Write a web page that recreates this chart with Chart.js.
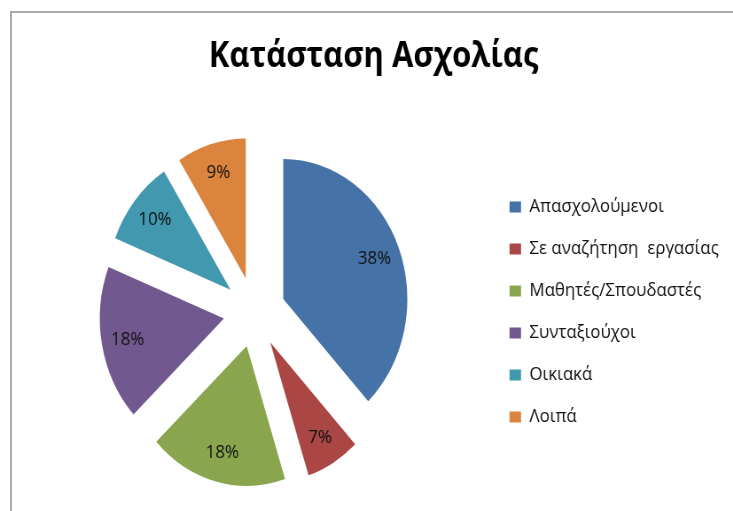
<!DOCTYPE html>
<html>
<head>
<meta charset="utf-8">
<script src="https://cdn.jsdelivr.net/npm/chart.js@4.4.1/dist/chart.umd.min.js"></script>
<style>
  html, body { margin: 0; padding: 0; background: #fff; overflow: hidden; }
  .frame {
    position: absolute; left: 10px; top: 11px;
    width: 760px; height: 540px;
    border: 2px solid #aaaaaa;
  }
  /* the original picture is squeezed sideways, so the chart is drawn wider and squeezed back */
  .wrap {
    position: absolute; left: 0; top: 0;
    width: 827px; height: 511px;
    transform: scaleX(0.8864); transform-origin: 0 0;
  }
</style>
</head>
<body>
<div class="frame"></div>
<div class="wrap"><canvas id="pie"></canvas></div>
<script>
// data
const categories = ['Απασχολούμενοι', 'Σε αναζήτηση  εργασίας', 'Μαθητές/Σπουδαστές', 'Συνταξιούχοι', 'Οικιακά', 'Λοιπά'];
const shares = [38, 7, 18, 18, 10, 9];
const sliceColors = ['#4572A7', '#AA4643', '#89A54E', '#71588F', '#4198AF', '#DB843D'];
const chartTitle = 'Κατάσταση Ασχολίας';

const FONT = 'Open Sans';
const legendSize = 19;
const legendPad = 23;
const boxW = 13;
const explode = 35; // how far each slice is pulled out

// work out the paddings so the pie and legend sit where they do in the picture
const W = 827;
const m = document.createElement('canvas').getContext('2d');
m.font = legendSize + 'px "' + FONT + '"';
const longest = Math.max(...categories.map(c => m.measureText(c).width));
const padL = legendPad - 0.8;
const legendLeft = 574 - padL;
const padR = W - legendLeft - (legendPad + boxW + legendSize / 2 + longest + 10);

// pulls every slice outwards along its middle angle
const explodePlugin = {
  id: 'explode',
  afterDatasetUpdate(chart, args) {
    args.meta.data.forEach(arc => {
      const mid = (arc.startAngle + arc.endAngle) / 2;
      arc.x += Math.cos(mid) * explode;
      arc.y += Math.sin(mid) * explode;
    });
  }
};

// percentage labels inside the slices
const pctLabels = {
  id: 'pctLabels',
  afterDatasetsDraw(chart) {
    const ctx = chart.ctx;
    const meta = chart.getDatasetMeta(0);
    const total = shares.reduce((a, b) => a + b, 0);
    ctx.save();
    ctx.font = '19px "' + FONT + '"';
    ctx.fillStyle = '#111';
    ctx.textAlign = 'center';
    ctx.textBaseline = 'middle';
    meta.data.forEach((arc, i) => {
      const mid = (arc.startAngle + arc.endAngle) / 2;
      const r = arc.outerRadius * 0.79;
      const pct = Math.round(shares[i] / total * 100) + '%';
      ctx.fillText(pct, arc.x + Math.cos(mid) * r, arc.y + Math.sin(mid) * r);
    });
    ctx.restore();
  }
};

new Chart(document.getElementById('pie'), {
  type: 'pie',
  data: {
    labels: categories,
    datasets: [{
      data: shares,
      backgroundColor: sliceColors,
      borderWidth: 0
    }]
  },
  options: {
    responsive: true,
    maintainAspectRatio: false,
    animation: false,
    radius: 140,
    layout: { padding: { left: padL, right: padR, top: 0, bottom: 0 } },
    plugins: {
      title: {
        display: true,
        text: chartTitle,
        color: '#000',
        font: { family: FONT, size: 35, weight: 'bold', lineHeight: 1.2 },
        padding: { top: 36, bottom: 35 }
      },
      legend: {
        position: 'right',
        fullSize: false,
        labels: {
          color: '#111',
          font: { family: FONT, size: legendSize },
          boxWidth: boxW,
          boxHeight: 11,
          padding: legendPad
        }
      },
      tooltip: { enabled: false }
    }
  },
  plugins: [explodePlugin, pctLabels]
});
</script>
</body>
</html>
